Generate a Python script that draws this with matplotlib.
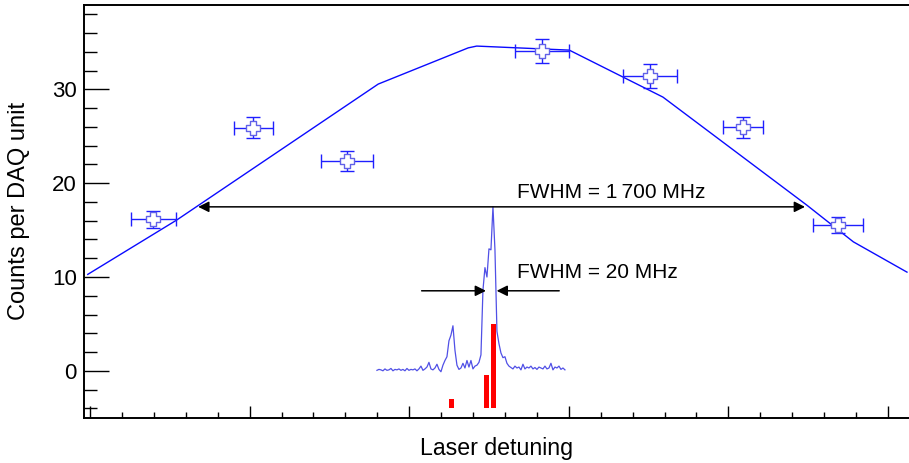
import matplotlib
matplotlib.use("Agg")
import matplotlib.pyplot as plt
import numpy as np
from matplotlib.path import Path
from matplotlib.ticker import MultipleLocator

plt.rcParams['font.family'] = ['Liberation Sans', 'DejaVu Sans']

# broad laser scan (detuning in arb. units, one major tick = 1)
scan_x = [0.397, 1.023, 1.608, 2.834, 3.509, 4.090, 4.689]
scan_y = [16.14, 25.91, 22.36, 34.12, 31.42, 25.98, 15.53]
scan_xerr = [0.142, 0.122, 0.163, 0.169, 0.169, 0.125, 0.157]
scan_yerr = [0.94, 1.12, 1.07, 1.26, 1.31, 1.12, 0.89]

# fitted envelope
fit_x = [-0.014, 0.543, 1.806, 2.370, 2.423, 3.003, 3.590, 4.491, 4.783, 5.119]
fit_y = [10.28, 16.07, 30.57, 34.43, 34.62, 34.19, 29.18, 17.67, 13.75, 10.52]

# narrow-band spectrum, sampled evenly between spec_start and spec_stop
spec_start, spec_stop = 1.798, 2.976
spec_y = [0.05, 0.15, 0.10, 0.00, 0.20, 0.05, 0.10, 0.25, 0.00, 0.15,
          0.10, 0.20, 0.05, 0.15, 0.00, 0.25, 0.05, 0.15, 0.10, 0.20,
          0.00, 0.20, 0.50, 0.05, 0.20, 0.40, 0.90, 0.20, 0.10, 0.30,
          0.70, 0.15, -0.10, 0.60, 1.10, 1.50, 3.20, 3.80, 4.80, 2.20,
          0.60, 0.15, 0.30, 0.80, 0.30, 1.10, 0.40, 1.10, 0.20, 0.50,
          0.60, 0.90, 1.70, 8.60, 11.0, 10.0, 13.0, 12.9, 17.5, 12.9,
          4.20, 2.90, 1.90, 1.40, 1.50, 0.80, 0.50, 0.35, 0.20, 0.50,
          0.30, 0.40, 0.10, 0.70, 0.20, 0.40, 0.30, 0.50, 0.20, 0.35,
          0.15, 0.40, 0.30, 0.20, 0.50, 0.20, 0.30, 0.80, 0.10, 0.40,
          0.30, 0.50, 0.15, 0.30, 0.10]
spec_x = np.linspace(spec_start, spec_stop, len(spec_y))

# hyperfine components
hfs_x = [2.266, 2.484, 2.527]
hfs_h = [1.0, 3.5, 9.0]
hfs_base = -4.0

# FWHM markers
broad_edges = [0.678, 4.480]
broad_level = 17.48
narrow_edges = [2.481, 2.548]
narrow_tails = [2.078, 2.940]
narrow_level = 8.53

# open cross marker
a = 0.22
cross = Path([(-a, -0.5), (a, -0.5), (a, -a), (0.5, -a), (0.5, a), (a, a),
              (a, 0.5), (-a, 0.5), (-a, a), (-0.5, a), (-0.5, -a), (-a, -a),
              (-a, -0.5)], closed=True)

fig = plt.figure(figsize=(9.09, 4.63), dpi=100)
ax = fig.add_axes([83.5 / 909, 1 - 417.7 / 463, (910 - 83.5) / 909, (417.7 - 5) / 463])

ax.plot(fit_x, fit_y, color='#0a0aff', lw=1.0, zorder=3)
ax.plot(spec_x, spec_y, color='#5050e6', lw=0.9, zorder=2)
ax.bar(hfs_x, hfs_h, bottom=hfs_base, width=0.033, color='red', zorder=2)

ax.errorbar(scan_x, scan_y, xerr=scan_xerr, yerr=scan_yerr, fmt='none',
            ecolor='#1f1fff', elinewidth=1.0, capsize=4.8, capthick=1.0, zorder=4)
ax.plot(scan_x, scan_y, ls='none', marker=cross, ms=9.5, mfc='white',
        mec='#6262e8', mew=1.0, zorder=5)

arrow = dict(arrowstyle='<|-|>', color='black', lw=1.1, mutation_scale=16,
             shrinkA=0, shrinkB=0)
ax.annotate('', xy=(broad_edges[1], broad_level), xytext=(broad_edges[0], broad_level),
            arrowprops=arrow)
arrow['arrowstyle'] = '-|>'
for tail, tip in zip(narrow_tails, narrow_edges):
    ax.annotate('', xy=(tip, narrow_level), xytext=(tail, narrow_level), arrowprops=arrow)

ax.text(2.674, 18.38, 'FWHM = 1\u2009700 MHz', fontsize=15, va='baseline')
ax.text(2.674, 9.91, 'FWHM = 20 MHz', fontsize=15, va='baseline')

ax.set_xlim(-0.0407, 5.138)
ax.set_ylim(-5, 39)
ax.xaxis.set_major_locator(MultipleLocator(1))
ax.xaxis.set_minor_locator(MultipleLocator(0.2))
ax.yaxis.set_major_locator(MultipleLocator(10))
ax.yaxis.set_minor_locator(MultipleLocator(2))
ax.tick_params(axis='x', which='major', direction='in', length=8.6, width=1.0, labelbottom=False)
ax.tick_params(axis='x', which='minor', direction='in', length=4.3, width=1.0)
ax.tick_params(axis='y', which='major', direction='in', length=18, width=1.0,
               labelsize=16, pad=4.9)
ax.tick_params(axis='y', which='minor', direction='in', length=9.1, width=1.0)
for side in ('left', 'bottom', 'top'):
    ax.spines[side].set_linewidth(1.4)
ax.spines['right'].set_visible(False)

ax.set_xlabel('Laser detuning', fontsize=16.7)
ax.set_ylabel('Counts per DAQ unit', fontsize=17)
ax.xaxis.label.set_va('center')
ax.xaxis.set_label_coords(0.5, -(448 - 417.7) / 412.7)
ax.yaxis.label.set_va('center')
ax.yaxis.set_label_coords(-(83.5 - 19) / 826.5, 0.5)

fig.savefig('out.png', dpi=100)
